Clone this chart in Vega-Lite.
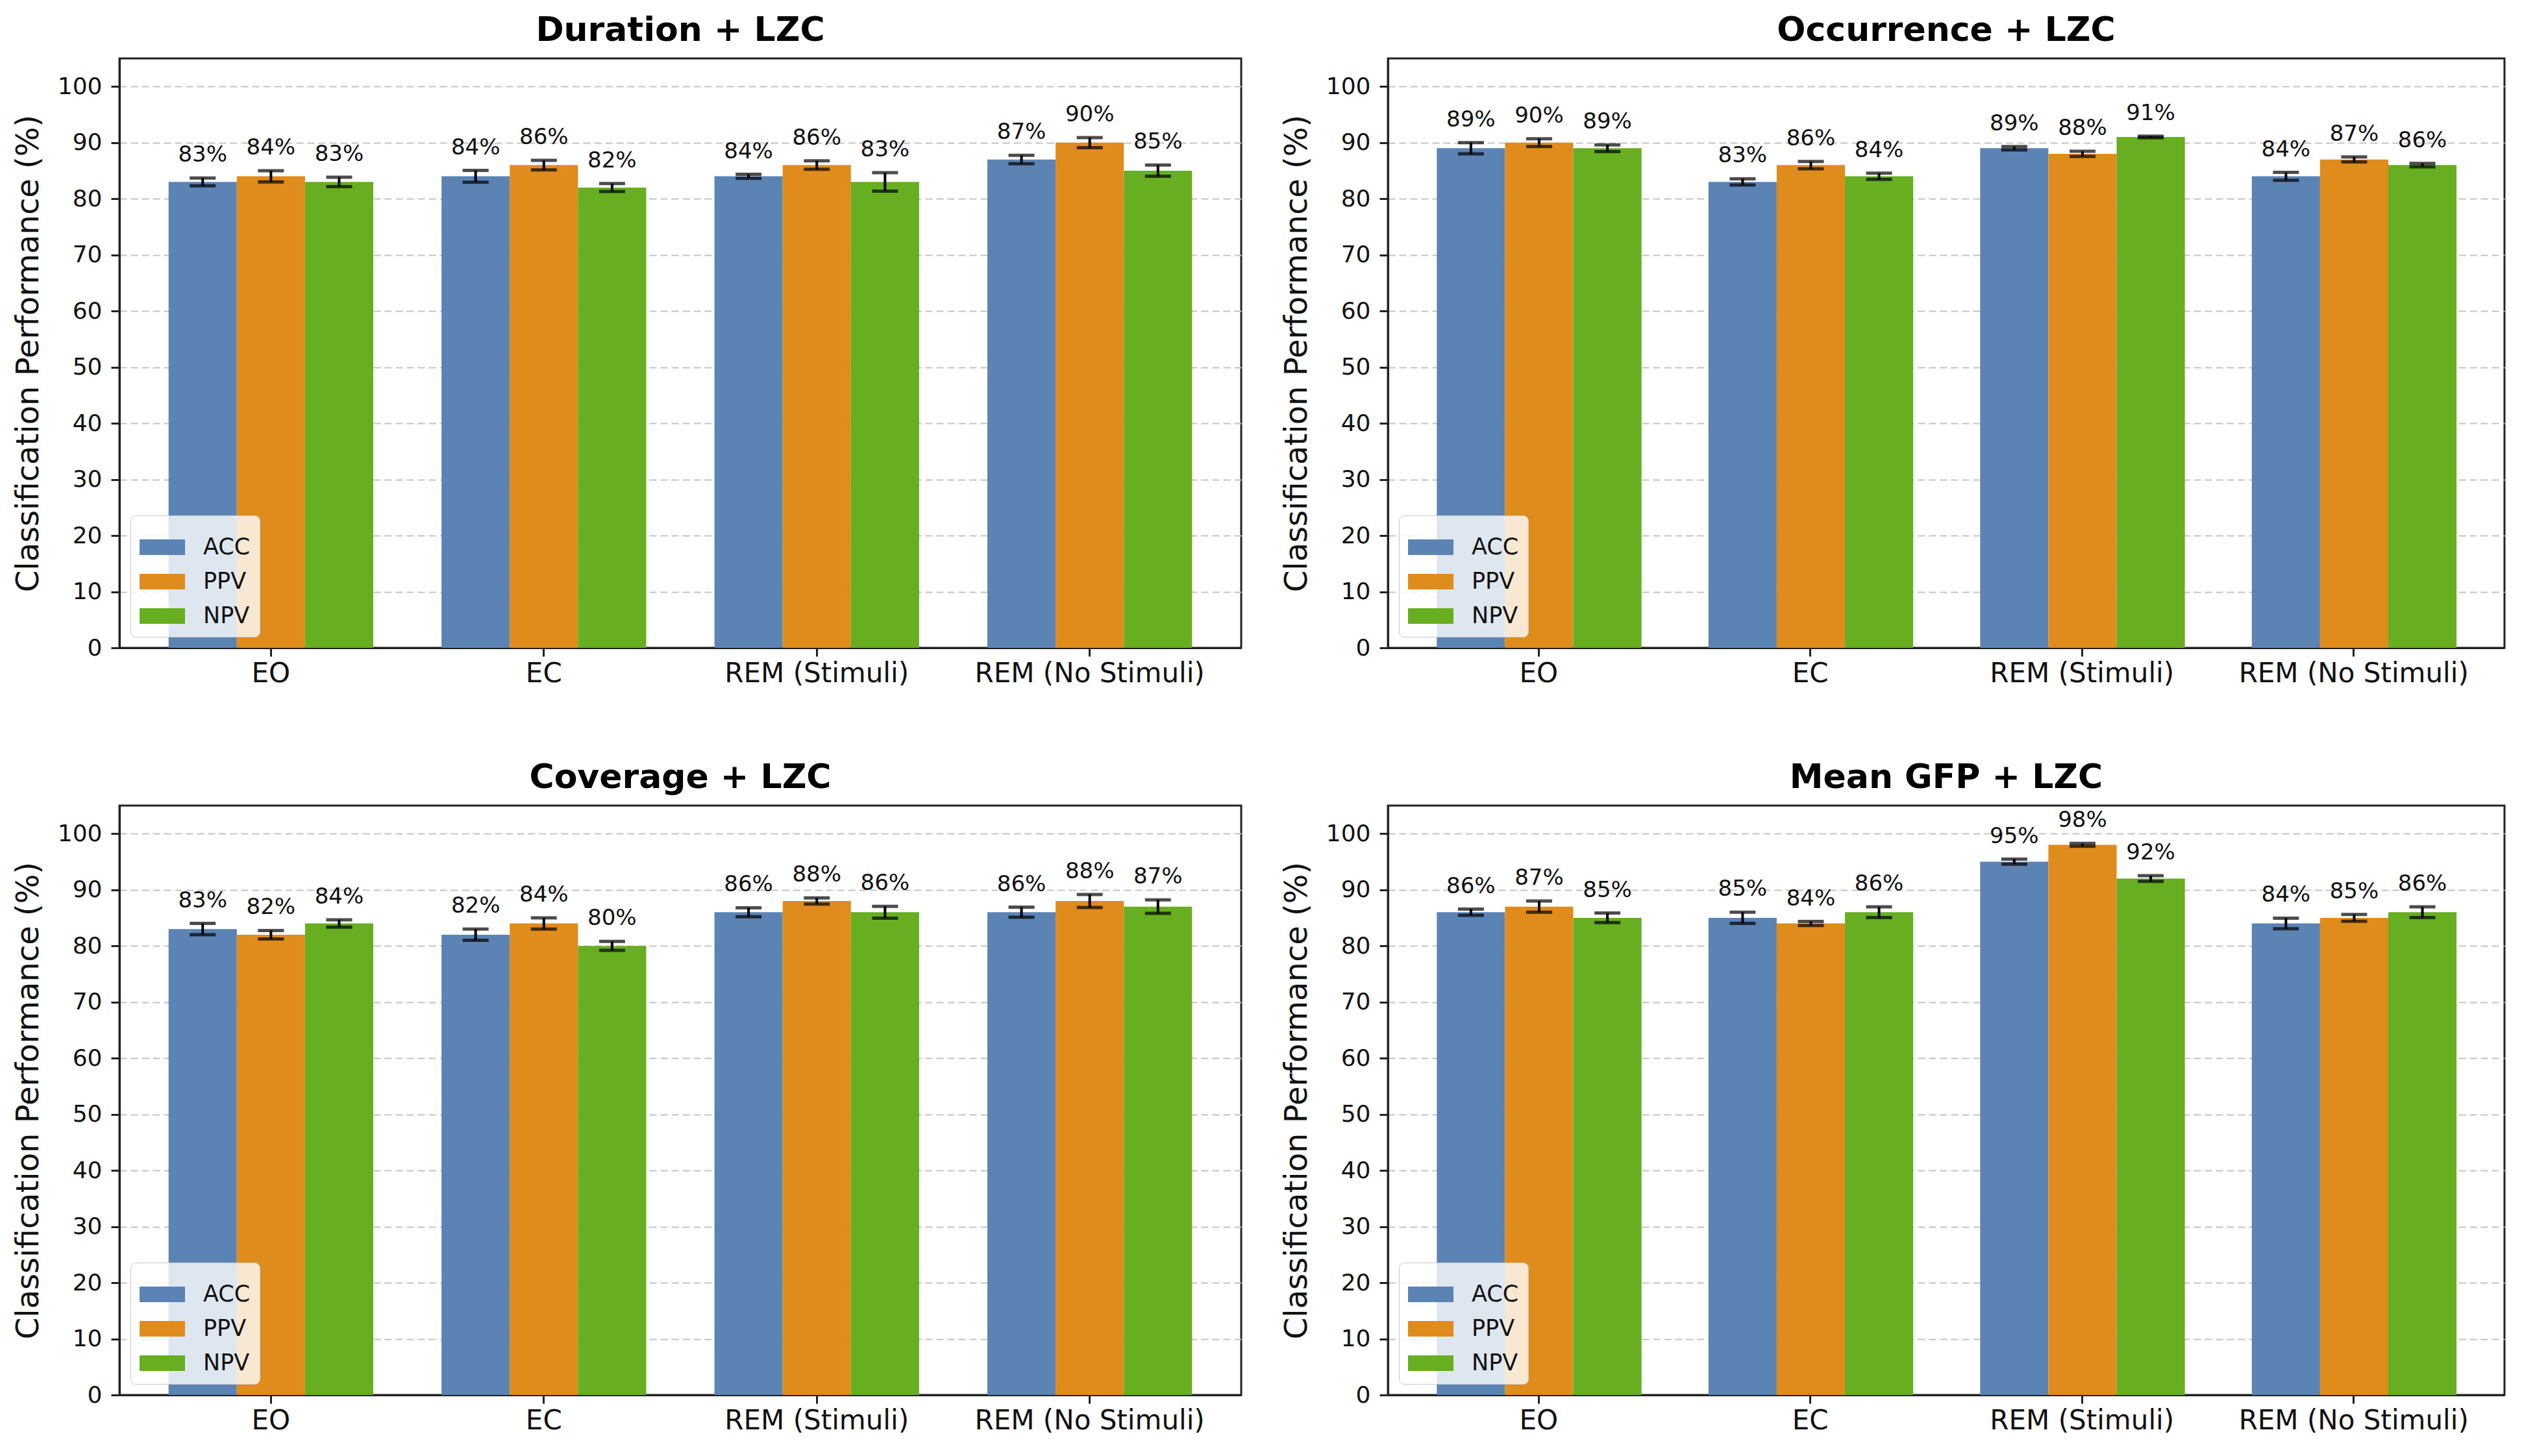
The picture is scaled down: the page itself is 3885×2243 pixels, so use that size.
{
  "$schema": "https://vega.github.io/schema/vega-lite/v6.json",
  "padding": {"left": 18, "top": 19, "right": 20, "bottom": 8},
  "autosize": {"type": "pad"},
  "background": "white",
  "columns": 2,
  "spacing": {"row": 110, "column": 58},
  "datasets": {
    "perf": [
      {"panel": "Duration + LZC", "cond": "EO", "metric": "ACC", "value": 83, "lo": 82.3, "hi": 83.7, "label": "83%"},
      {"panel": "Duration + LZC", "cond": "EO", "metric": "PPV", "value": 84, "lo": 83.0, "hi": 85.0, "label": "84%"},
      {"panel": "Duration + LZC", "cond": "EO", "metric": "NPV", "value": 83, "lo": 82.15, "hi": 83.85, "label": "83%"},
      {"panel": "Duration + LZC", "cond": "EC", "metric": "ACC", "value": 84, "lo": 82.95, "hi": 85.05, "label": "84%"},
      {"panel": "Duration + LZC", "cond": "EC", "metric": "PPV", "value": 86, "lo": 85.15, "hi": 86.85, "label": "86%"},
      {"panel": "Duration + LZC", "cond": "EC", "metric": "NPV", "value": 82, "lo": 81.3, "hi": 82.7, "label": "82%"},
      {"panel": "Duration + LZC", "cond": "REM (Stimuli)", "metric": "ACC", "value": 84, "lo": 83.65, "hi": 84.35, "label": "84%"},
      {"panel": "Duration + LZC", "cond": "REM (Stimuli)", "metric": "PPV", "value": 86, "lo": 85.25, "hi": 86.75, "label": "86%"},
      {"panel": "Duration + LZC", "cond": "REM (Stimuli)", "metric": "NPV", "value": 83, "lo": 81.35, "hi": 84.65, "label": "83%"},
      {"panel": "Duration + LZC", "cond": "REM (No Stimuli)", "metric": "ACC", "value": 87, "lo": 86.25, "hi": 87.75, "label": "87%"},
      {"panel": "Duration + LZC", "cond": "REM (No Stimuli)", "metric": "PPV", "value": 90, "lo": 89.1, "hi": 90.9, "label": "90%"},
      {"panel": "Duration + LZC", "cond": "REM (No Stimuli)", "metric": "NPV", "value": 85, "lo": 84.0, "hi": 86.0, "label": "85%"},

      {"panel": "Occurrence + LZC", "cond": "EO", "metric": "ACC", "value": 89, "lo": 88.0, "hi": 90.0, "label": "89%"},
      {"panel": "Occurrence + LZC", "cond": "EO", "metric": "PPV", "value": 90, "lo": 89.3, "hi": 90.7, "label": "90%"},
      {"panel": "Occurrence + LZC", "cond": "EO", "metric": "NPV", "value": 89, "lo": 88.4, "hi": 89.6, "label": "89%"},
      {"panel": "Occurrence + LZC", "cond": "EC", "metric": "ACC", "value": 83, "lo": 82.45, "hi": 83.55, "label": "83%"},
      {"panel": "Occurrence + LZC", "cond": "EC", "metric": "PPV", "value": 86, "lo": 85.35, "hi": 86.65, "label": "86%"},
      {"panel": "Occurrence + LZC", "cond": "EC", "metric": "NPV", "value": 84, "lo": 83.45, "hi": 84.55, "label": "84%"},
      {"panel": "Occurrence + LZC", "cond": "REM (Stimuli)", "metric": "ACC", "value": 89, "lo": 88.7, "hi": 89.3, "label": "89%"},
      {"panel": "Occurrence + LZC", "cond": "REM (Stimuli)", "metric": "PPV", "value": 88, "lo": 87.55, "hi": 88.45, "label": "88%"},
      {"panel": "Occurrence + LZC", "cond": "REM (Stimuli)", "metric": "NPV", "value": 91, "lo": 90.85, "hi": 91.15, "label": "91%"},
      {"panel": "Occurrence + LZC", "cond": "REM (No Stimuli)", "metric": "ACC", "value": 84, "lo": 83.3, "hi": 84.7, "label": "84%"},
      {"panel": "Occurrence + LZC", "cond": "REM (No Stimuli)", "metric": "PPV", "value": 87, "lo": 86.55, "hi": 87.45, "label": "87%"},
      {"panel": "Occurrence + LZC", "cond": "REM (No Stimuli)", "metric": "NPV", "value": 86, "lo": 85.7, "hi": 86.3, "label": "86%"},

      {"panel": "Coverage + LZC", "cond": "EO", "metric": "ACC", "value": 83, "lo": 82.0, "hi": 84.0, "label": "83%"},
      {"panel": "Coverage + LZC", "cond": "EO", "metric": "PPV", "value": 82, "lo": 81.25, "hi": 82.75, "label": "82%"},
      {"panel": "Coverage + LZC", "cond": "EO", "metric": "NPV", "value": 84, "lo": 83.35, "hi": 84.65, "label": "84%"},
      {"panel": "Coverage + LZC", "cond": "EC", "metric": "ACC", "value": 82, "lo": 81.0, "hi": 83.0, "label": "82%"},
      {"panel": "Coverage + LZC", "cond": "EC", "metric": "PPV", "value": 84, "lo": 83.0, "hi": 85.0, "label": "84%"},
      {"panel": "Coverage + LZC", "cond": "EC", "metric": "NPV", "value": 80, "lo": 79.2, "hi": 80.8, "label": "80%"},
      {"panel": "Coverage + LZC", "cond": "REM (Stimuli)", "metric": "ACC", "value": 86, "lo": 85.2, "hi": 86.8, "label": "86%"},
      {"panel": "Coverage + LZC", "cond": "REM (Stimuli)", "metric": "PPV", "value": 88, "lo": 87.45, "hi": 88.55, "label": "88%"},
      {"panel": "Coverage + LZC", "cond": "REM (Stimuli)", "metric": "NPV", "value": 86, "lo": 84.95, "hi": 87.05, "label": "86%"},
      {"panel": "Coverage + LZC", "cond": "REM (No Stimuli)", "metric": "ACC", "value": 86, "lo": 85.1, "hi": 86.9, "label": "86%"},
      {"panel": "Coverage + LZC", "cond": "REM (No Stimuli)", "metric": "PPV", "value": 88, "lo": 86.85, "hi": 89.15, "label": "88%"},
      {"panel": "Coverage + LZC", "cond": "REM (No Stimuli)", "metric": "NPV", "value": 87, "lo": 85.8, "hi": 88.2, "label": "87%"},

      {"panel": "Mean GFP + LZC", "cond": "EO", "metric": "ACC", "value": 86, "lo": 85.45, "hi": 86.55, "label": "86%"},
      {"panel": "Mean GFP + LZC", "cond": "EO", "metric": "PPV", "value": 87, "lo": 86.0, "hi": 88.0, "label": "87%"},
      {"panel": "Mean GFP + LZC", "cond": "EO", "metric": "NPV", "value": 85, "lo": 84.15, "hi": 85.85, "label": "85%"},
      {"panel": "Mean GFP + LZC", "cond": "EC", "metric": "ACC", "value": 85, "lo": 84.0, "hi": 86.0, "label": "85%"},
      {"panel": "Mean GFP + LZC", "cond": "EC", "metric": "PPV", "value": 84, "lo": 83.65, "hi": 84.35, "label": "84%"},
      {"panel": "Mean GFP + LZC", "cond": "EC", "metric": "NPV", "value": 86, "lo": 85.05, "hi": 86.95, "label": "86%"},
      {"panel": "Mean GFP + LZC", "cond": "REM (Stimuli)", "metric": "ACC", "value": 95, "lo": 94.55, "hi": 95.45, "label": "95%"},
      {"panel": "Mean GFP + LZC", "cond": "REM (Stimuli)", "metric": "PPV", "value": 98, "lo": 97.75, "hi": 98.25, "label": "98%"},
      {"panel": "Mean GFP + LZC", "cond": "REM (Stimuli)", "metric": "NPV", "value": 92, "lo": 91.5, "hi": 92.5, "label": "92%"},
      {"panel": "Mean GFP + LZC", "cond": "REM (No Stimuli)", "metric": "ACC", "value": 84, "lo": 83.05, "hi": 84.95, "label": "84%"},
      {"panel": "Mean GFP + LZC", "cond": "REM (No Stimuli)", "metric": "PPV", "value": 85, "lo": 84.4, "hi": 85.6, "label": "85%"},
      {"panel": "Mean GFP + LZC", "cond": "REM (No Stimuli)", "metric": "NPV", "value": 86, "lo": 85.05, "hi": 86.95, "label": "86%"}
    ]
  },
  "concat": [
    {
      "title": {"text": "Duration + LZC"},
      "data": {"name": "perf"},
      "transform": [{"filter": "datum.panel === 'Duration + LZC'"}],
      "width": 1728, "height": 908,
      "encoding": {
        "x": {"field": "cond", "type": "nominal", "sort": ["EO", "EC", "REM (Stimuli)", "REM (No Stimuli)"], "scale": {"paddingInner": 0.25, "paddingOuter": 0.18}, "axis": {"title": null, "labelAngle": 0}},
        "xOffset": {"field": "metric", "type": "nominal", "sort": ["ACC", "PPV", "NPV"]}
      },
      "layer": [
        {"mark": {"type": "bar"}, "encoding": {
          "y": {"field": "value", "type": "quantitative", "title": "Classification Performance (%)", "scale": {"domain": [0, 105], "nice": false}, "axis": {"values": [0, 10, 20, 30, 40, 50, 60, 70, 80, 90, 100]}},
          "color": {"field": "metric", "type": "nominal", "sort": ["ACC", "PPV", "NPV"], "scale": {"domain": ["ACC", "PPV", "NPV"], "range": ["#5b84b5", "#e08c1c", "#67ae20"]}, "legend": {"title": null}}}},
        {"mark": {"type": "rule", "color": "black", "strokeWidth": 4}, "encoding": {"y": {"field": "lo", "type": "quantitative", "title": "Classification Performance (%)"}, "y2": {"field": "hi"}}},
        {"mark": {"type": "tick", "color": "black", "thickness": 5, "size": 40}, "encoding": {"y": {"field": "lo", "type": "quantitative", "title": "Classification Performance (%)"}}},
        {"mark": {"type": "tick", "color": "black", "thickness": 5, "size": 40}, "encoding": {"y": {"field": "hi", "type": "quantitative", "title": "Classification Performance (%)"}}},
        {"mark": {"type": "text", "fontSize": 34, "dy": -25, "baseline": "alphabetic", "color": "#111"}, "encoding": {"y": {"field": "hi", "type": "quantitative", "title": "Classification Performance (%)"}, "text": {"field": "label"}}}
      ]
    },
    {
      "title": {"text": "Occurrence + LZC"},
      "data": {"name": "perf"},
      "transform": [{"filter": "datum.panel === 'Occurrence + LZC'"}],
      "width": 1720, "height": 908,
      "encoding": {
        "x": {"field": "cond", "type": "nominal", "sort": ["EO", "EC", "REM (Stimuli)", "REM (No Stimuli)"], "scale": {"paddingInner": 0.25, "paddingOuter": 0.18}, "axis": {"title": null, "labelAngle": 0}},
        "xOffset": {"field": "metric", "type": "nominal", "sort": ["ACC", "PPV", "NPV"]}
      },
      "layer": [
        {"mark": {"type": "bar"}, "encoding": {
          "y": {"field": "value", "type": "quantitative", "title": "Classification Performance (%)", "scale": {"domain": [0, 105], "nice": false}, "axis": {"values": [0, 10, 20, 30, 40, 50, 60, 70, 80, 90, 100]}},
          "color": {"field": "metric", "type": "nominal", "sort": ["ACC", "PPV", "NPV"], "scale": {"domain": ["ACC", "PPV", "NPV"], "range": ["#5b84b5", "#e08c1c", "#67ae20"]}, "legend": {"title": null}}}},
        {"mark": {"type": "rule", "color": "black", "strokeWidth": 4}, "encoding": {"y": {"field": "lo", "type": "quantitative", "title": "Classification Performance (%)"}, "y2": {"field": "hi"}}},
        {"mark": {"type": "tick", "color": "black", "thickness": 5, "size": 40}, "encoding": {"y": {"field": "lo", "type": "quantitative", "title": "Classification Performance (%)"}}},
        {"mark": {"type": "tick", "color": "black", "thickness": 5, "size": 40}, "encoding": {"y": {"field": "hi", "type": "quantitative", "title": "Classification Performance (%)"}}},
        {"mark": {"type": "text", "fontSize": 34, "dy": -25, "baseline": "alphabetic", "color": "#111"}, "encoding": {"y": {"field": "hi", "type": "quantitative", "title": "Classification Performance (%)"}, "text": {"field": "label"}}}
      ]
    },
    {
      "title": {"text": "Coverage + LZC"},
      "data": {"name": "perf"},
      "transform": [{"filter": "datum.panel === 'Coverage + LZC'"}],
      "width": 1728, "height": 908,
      "encoding": {
        "x": {"field": "cond", "type": "nominal", "sort": ["EO", "EC", "REM (Stimuli)", "REM (No Stimuli)"], "scale": {"paddingInner": 0.25, "paddingOuter": 0.18}, "axis": {"title": null, "labelAngle": 0}},
        "xOffset": {"field": "metric", "type": "nominal", "sort": ["ACC", "PPV", "NPV"]}
      },
      "layer": [
        {"mark": {"type": "bar"}, "encoding": {
          "y": {"field": "value", "type": "quantitative", "title": "Classification Performance (%)", "scale": {"domain": [0, 105], "nice": false}, "axis": {"values": [0, 10, 20, 30, 40, 50, 60, 70, 80, 90, 100]}},
          "color": {"field": "metric", "type": "nominal", "sort": ["ACC", "PPV", "NPV"], "scale": {"domain": ["ACC", "PPV", "NPV"], "range": ["#5b84b5", "#e08c1c", "#67ae20"]}, "legend": {"title": null}}}},
        {"mark": {"type": "rule", "color": "black", "strokeWidth": 4}, "encoding": {"y": {"field": "lo", "type": "quantitative", "title": "Classification Performance (%)"}, "y2": {"field": "hi"}}},
        {"mark": {"type": "tick", "color": "black", "thickness": 5, "size": 40}, "encoding": {"y": {"field": "lo", "type": "quantitative", "title": "Classification Performance (%)"}}},
        {"mark": {"type": "tick", "color": "black", "thickness": 5, "size": 40}, "encoding": {"y": {"field": "hi", "type": "quantitative", "title": "Classification Performance (%)"}}},
        {"mark": {"type": "text", "fontSize": 34, "dy": -25, "baseline": "alphabetic", "color": "#111"}, "encoding": {"y": {"field": "hi", "type": "quantitative", "title": "Classification Performance (%)"}, "text": {"field": "label"}}}
      ]
    },
    {
      "title": {"text": "Mean GFP + LZC"},
      "data": {"name": "perf"},
      "transform": [{"filter": "datum.panel === 'Mean GFP + LZC'"}],
      "width": 1720, "height": 908,
      "encoding": {
        "x": {"field": "cond", "type": "nominal", "sort": ["EO", "EC", "REM (Stimuli)", "REM (No Stimuli)"], "scale": {"paddingInner": 0.25, "paddingOuter": 0.18}, "axis": {"title": null, "labelAngle": 0}},
        "xOffset": {"field": "metric", "type": "nominal", "sort": ["ACC", "PPV", "NPV"]}
      },
      "layer": [
        {"mark": {"type": "bar"}, "encoding": {
          "y": {"field": "value", "type": "quantitative", "title": "Classification Performance (%)", "scale": {"domain": [0, 105], "nice": false}, "axis": {"values": [0, 10, 20, 30, 40, 50, 60, 70, 80, 90, 100]}},
          "color": {"field": "metric", "type": "nominal", "sort": ["ACC", "PPV", "NPV"], "scale": {"domain": ["ACC", "PPV", "NPV"], "range": ["#5b84b5", "#e08c1c", "#67ae20"]}, "legend": {"title": null}}}},
        {"mark": {"type": "rule", "color": "black", "strokeWidth": 4}, "encoding": {"y": {"field": "lo", "type": "quantitative", "title": "Classification Performance (%)"}, "y2": {"field": "hi"}}},
        {"mark": {"type": "tick", "color": "black", "thickness": 5, "size": 40}, "encoding": {"y": {"field": "lo", "type": "quantitative", "title": "Classification Performance (%)"}}},
        {"mark": {"type": "tick", "color": "black", "thickness": 5, "size": 40}, "encoding": {"y": {"field": "hi", "type": "quantitative", "title": "Classification Performance (%)"}}},
        {"mark": {"type": "text", "fontSize": 34, "dy": -25, "baseline": "alphabetic", "color": "#111"}, "encoding": {"y": {"field": "hi", "type": "quantitative", "title": "Classification Performance (%)"}, "text": {"field": "label"}}}
      ]
    }
  ],
  "resolve": {"legend": {"color": "independent"}},
  "config": {
    "font": "DejaVu Sans",
    "view": {"stroke": "#222222", "strokeWidth": 3},
    "title": {"fontSize": 52, "fontWeight": "bold", "color": "black", "offset": 16, "anchor": "middle", "font": "DejaVu Sans"},
    "axis": {"labelFont": "DejaVu Sans", "titleFont": "DejaVu Sans", "labelColor": "#111", "titleColor": "#111", "tickColor": "#222", "tickWidth": 3, "tickSize": 13, "domainColor": "#222", "domainWidth": 3, "zindex": 1, "labelLimit": 0},
    "axisX": {"grid": false, "labelFontSize": 42, "labelPadding": 6},
    "axisY": {"grid": true, "gridDash": [11, 6], "gridColor": "#c4c4c4", "gridWidth": 2, "labelFontSize": 36, "labelPadding": 14, "titleFontSize": 48, "titleFontWeight": "normal", "titlePadding": 20},
    "legend": {"orient": "bottom-left", "offset": 17, "symbolType": "M-1,-0.343H1V0.343H-1Z", "symbolSize": 4900, "symbolStrokeWidth": 0, "symbolOpacity": 1, "labelFontSize": 35, "labelColor": "#111", "labelOffset": 28, "rowPadding": 0, "padding": 14, "fillColor": "rgba(255,255,255,0.8)", "strokeColor": "#c8c8c8", "cornerRadius": 8, "labelFont": "DejaVu Sans"}
  }
}
